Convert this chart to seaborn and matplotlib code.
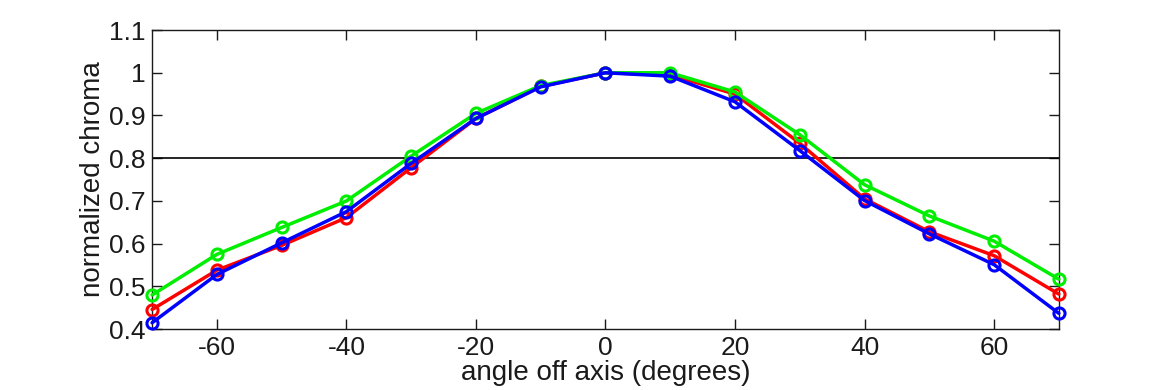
import numpy as np
import pandas as pd
import matplotlib
matplotlib.use("Agg")
import matplotlib.pyplot as plt
import seaborn as sns

# angle off axis (degrees)
angles = [-70, -60, -50, -40, -30, -20, -10, 0, 10, 20, 30, 40, 50, 60, 70]

# normalized chroma per channel
red = [0.446, 0.538, 0.596, 0.661, 0.778, 0.893, 0.968, 1.0, 0.995, 0.950, 0.835, 0.705, 0.628, 0.572, 0.482]
green = [0.480, 0.575, 0.638, 0.700, 0.805, 0.905, 0.970, 1.0, 1.000, 0.955, 0.855, 0.738, 0.665, 0.606, 0.517]
blue = [0.415, 0.528, 0.602, 0.675, 0.788, 0.893, 0.967, 1.0, 0.992, 0.932, 0.818, 0.701, 0.623, 0.551, 0.437]

xticks = [-60, -40, -20, 0, 20, 40, 60]
yticks = [0.4, 0.5, 0.6, 0.7, 0.8, 0.9, 1.0, 1.1]
threshold = 0.8

sns.set_theme(style="white")
plt.rcParams["font.family"] = ["Liberation Sans", "DejaVu Sans"]
plt.rcParams["axes.unicode_minus"] = False

df = pd.concat([
    pd.DataFrame({"angle": angles, "chroma": red, "channel": "red"}),
    pd.DataFrame({"angle": angles, "chroma": green, "channel": "green"}),
    pd.DataFrame({"angle": angles, "chroma": blue, "channel": "blue"}),
])
colors = {"red": "#ff0000", "green": "#00ee00", "blue": "#0000ff"}

fig = plt.figure(figsize=(11.7, 3.9), dpi=100)
ax = fig.add_axes([0.130, 0.156, 0.775, 0.767])

ax.axhline(threshold, color="black", linewidth=1.2, zorder=1)

for ch in ["red", "green", "blue"]:
    sns.lineplot(data=df[df["channel"] == ch], x="angle", y="chroma",
                 color=colors[ch], linewidth=2.5, marker="o", markersize=8,
                 markerfacecolor="none", markeredgecolor=colors[ch],
                 markeredgewidth=2.2, ax=ax, zorder=3, clip_on=False)

ax.set_xlim(-70, 70)
ax.set_ylim(0.4, 1.1)
ax.set_xticks(xticks)
ax.set_yticks(yticks)
ax.set_yticklabels([f"{v:g}" for v in yticks])
ax.tick_params(direction="in", length=7, width=1, labelsize=19, colors="#1a1a1a",
               top=True, right=True, left=True, bottom=True, pad=5)
ax.tick_params(axis="x", labeltop=False)
ax.tick_params(axis="y", labelright=False)
for s in ax.spines.values():
    s.set_color("#1a1a1a")
    s.set_linewidth(1)

ax.set_xlabel("angle off axis (degrees)", fontsize=20, color="#1a1a1a", labelpad=0)
ax.set_ylabel("normalized chroma", fontsize=20, color="#1a1a1a", labelpad=2)

fig.savefig("out.png", dpi=100)
